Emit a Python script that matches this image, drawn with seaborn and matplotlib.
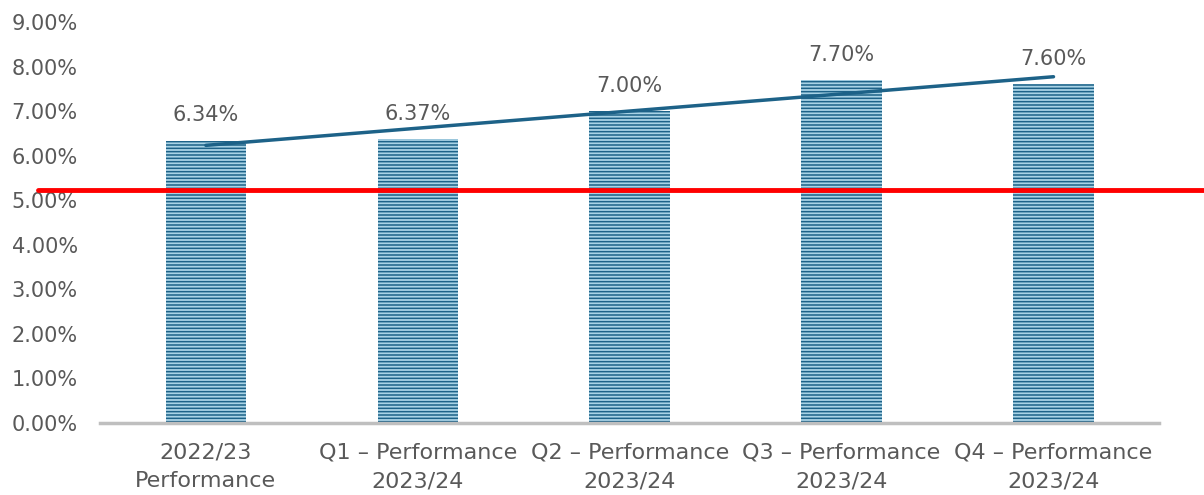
import numpy as np
import pandas as pd
import seaborn as sns
import matplotlib.pyplot as plt
from matplotlib.ticker import FuncFormatter

# Daten
categories = ["2022/23\nPerformance", "Q1 \u2013 Performance\n2023/24",
              "Q2 \u2013 Performance\n2023/24", "Q3 \u2013 Performance\n2023/24",
              "Q4 \u2013 Performance\n2023/24"]
values = [6.34, 6.37, 7.00, 7.70, 7.60]
target = 5.22
y_ticks = [0, 1, 2, 3, 4, 5, 6, 7, 8, 9]

df = pd.DataFrame({"period": categories, "value": values})

sns.set_style("white")
plt.rcParams["font.family"] = ["DejaVu Sans"]
plt.rcParams["hatch.linewidth"] = 1.1
plt.rcParams["hatch.color"] = "#1d6288"

grey = "#595959"
dark = "#1d6288"

fig = plt.figure(figsize=(12.04, 4.95), dpi=100)
ax = fig.add_axes([0.083, 0.1455, 0.880, 0.810])

sns.barplot(data=df, x="period", y="value", color="#a9d3e6", width=0.38,
            saturation=1, ax=ax)
for p in ax.patches:
    p.set_hatch("-----")
    p.set_edgecolor(dark)
    p.set_linewidth(0)

# Trendlinie
xs = np.arange(len(values))
k, d = np.polyfit(xs, values, 1)
ax.plot(xs, k * xs + d, color=dark, lw=2.5, zorder=4)

# Zielwert
ax.axhline(target, xmin=-0.058, xmax=1.05, color="#ff0000", lw=3.5,
           clip_on=False, zorder=5)

# Beschriftungen
for x, v in zip(xs, values):
    ax.annotate(f"{v:.2f}%", (x, v), xytext=(0, 11), textcoords="offset points",
                ha="center", va="bottom", fontsize=15, color=grey)

ax.set_ylim(0, 9)
ax.set_xlim(-0.5, 4.5)
ax.set_yticks(y_ticks)
ax.yaxis.set_major_formatter(FuncFormatter(lambda v, _: f"{v:.2f}%"))
ax.tick_params(axis="y", length=0, labelsize=15, labelcolor=grey, pad=16)
ax.tick_params(axis="x", length=0, labelsize=16, labelcolor=grey, pad=14)
for lbl in ax.get_xticklabels():
    lbl.set_linespacing(1.55)
ax.set_xlabel("")
ax.set_ylabel("")
for s in ["top", "right", "left"]:
    ax.spines[s].set_visible(False)
ax.spines["bottom"].set_color("#bfbfbf")
ax.spines["bottom"].set_linewidth(2.5)

fig.savefig("out.png", dpi=100)
